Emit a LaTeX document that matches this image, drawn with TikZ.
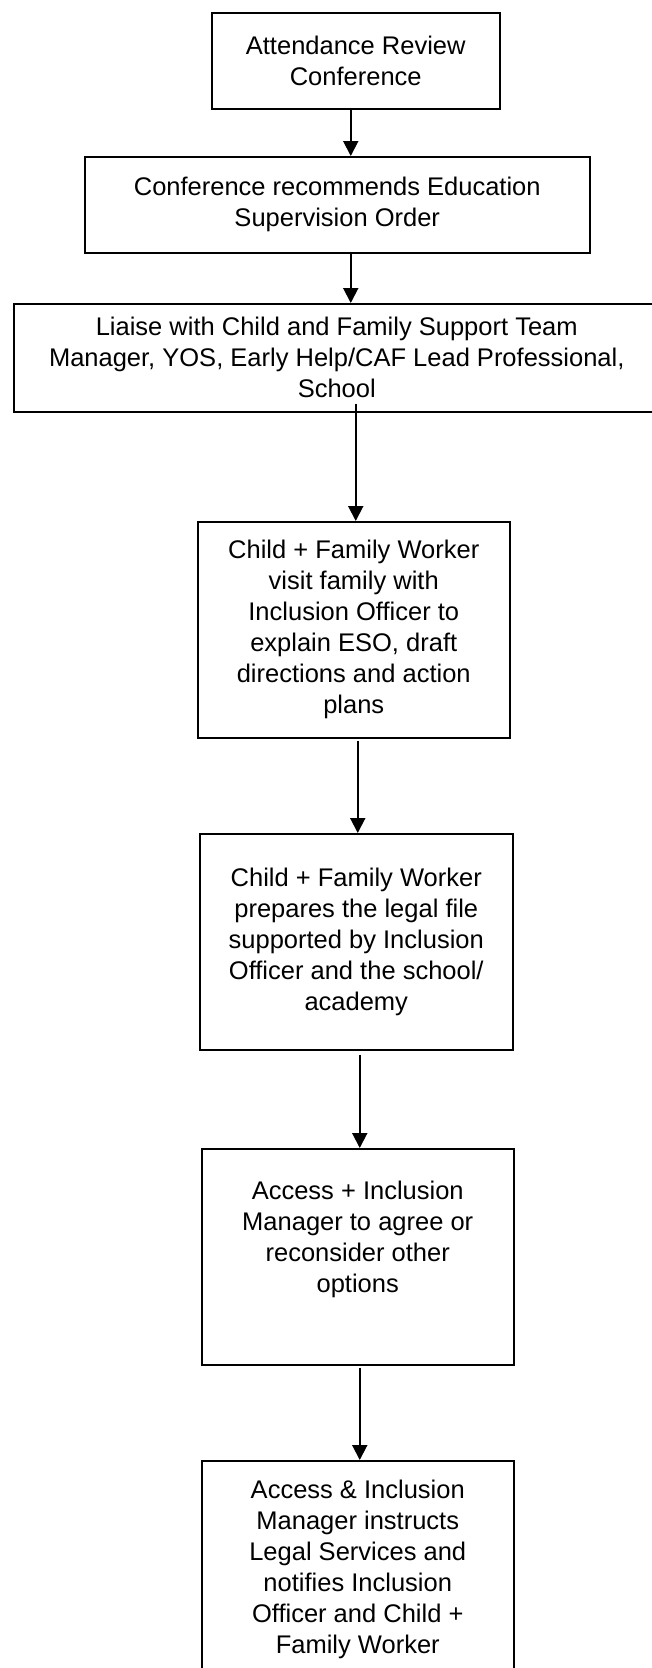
\documentclass[tikz,border=0pt]{standalone}
\usepackage{fontspec}
\setmainfont{Liberation Sans}
\usepackage{tikz}
\usetikzlibrary{arrows.meta}

\tikzset{
	stepbox/.style={draw, line width=1.5pt, anchor=north west, align=center, inner sep=0pt,
		font=\fontsize{25.5}{31}\selectfont},
	arr/.style={line width=2pt, -{Triangle[length=15pt,width=15pt]}}
}

\begin{document}
\begin{tikzpicture}[x=1pt, y=-1pt]
		\clip (0,0) rectangle (652,1668);
		
		\node[stepbox, minimum width=288pt, minimum height=96pt] (conf) at (211,12) {Attendance Review\\Conference};
		\node[stepbox, minimum width=505pt, minimum height=96pt] (eso) at (84,156) {Conference recommends Education\\Supervision Order};
		\node[stepbox, minimum width=646pt, minimum height=108pt] (liaise) at (13,303) {Liaise with Child and Family Support Team\\Manager, YOS, Early Help/CAF Lead Professional,\\School};
		\node[stepbox, minimum width=312pt, minimum height=216pt] (visit) at (197,521) {Child + Family Worker\\visit family with\\Inclusion Officer to\\explain ESO, draft\\directions and action\\plans};
		\node[stepbox, minimum width=313pt, minimum height=216pt] (legal) at (199,833) {Child + Family Worker\\prepares the legal file\\supported by Inclusion\\Officer and the school/\\academy};
		\node[stepbox, minimum width=312pt, minimum height=216pt] (agree) at (201,1148) {Access + Inclusion\\Manager to agree or\\reconsider other\\options\\[9pt]~};
		\node[stepbox, minimum width=312pt, minimum height=218pt] (instruct) at (201,1460) {Access \& Inclusion\\Manager instructs\\Legal Services and\\notifies Inclusion\\Officer and Child +\\Family Worker};
		
		\draw[arr] ([xshift=-5pt]conf.south) -- ([xshift=-5pt]conf.south |- eso.north);
		\draw[arr] ([xshift=13.5pt]eso.south) -- ([xshift=13.5pt]eso.south |- liaise.north);
		\draw[arr] ([xshift=19pt,yshift=9pt]liaise.south) -- ([xshift=19pt]liaise.south |- visit.north);
		\draw[arr] ([xshift=4pt,yshift=-2pt]visit.south) -- ([xshift=4pt]visit.south |- legal.north);
		\draw[arr] ([xshift=3.5pt,yshift=-4pt]legal.south) -- ([xshift=3.5pt]legal.south |- agree.north);
		\draw[arr] ([xshift=2pt,yshift=-2pt]agree.south) -- ([xshift=2pt]agree.south |- instruct.north);
	\end{tikzpicture}
\end{document}
